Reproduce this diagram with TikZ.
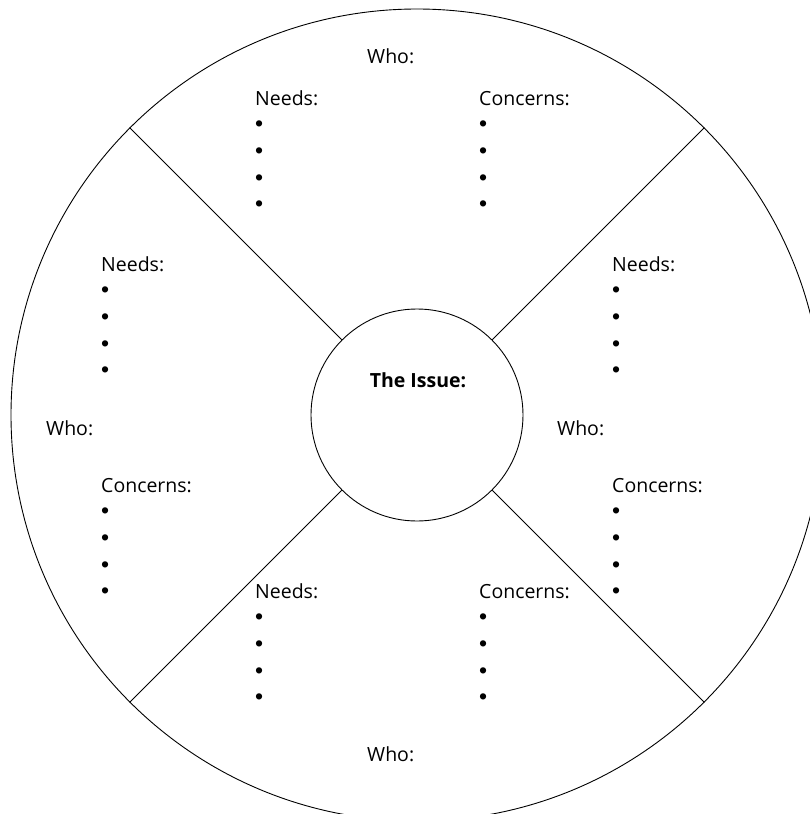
\documentclass[tikz,border=0pt]{standalone}
\usepackage{fontspec}
\setmainfont{Open Sans}
\newfontfamily\bulfont{Liberation Sans}
\newcommand{\bu}{{\bulfont\fontsize{23}{26.7}\selectfont •}}
\begin{document}
\begin{tikzpicture}[x=1pt,y=-1pt,
  lbl/.style={anchor=base west,inner sep=0pt,font=\fontsize{19.5}{26.7}\selectfont},
  lst/.style={lbl,align=left},
  ring/.style={circle,draw,line width=0.9pt,inner sep=0pt}]
\useasboundingbox (0,0) rectangle (809,814);
\node[ring,minimum size=812pt] (outer) at (417,415) {};
\node[ring,minimum size=212pt] (issue) at (417,415) {};
\foreach \a in {45,135,225,315}{\draw[line width=0.9pt] (issue.\a) -- (outer.\a);}
\node[lbl,font=\fontsize{19.5}{24}\selectfont\bfseries,anchor=base] (issuetext) at (418,387) {The Issue:};
% top  (list nodes are placed at the baseline of their last line = header + 105.7)
\node[lbl] (whoT) at (367,63) {Who:};
\node[lst] (needsT) at (255,211.7) {Needs:\\[-0.1pt] \bu\\ \bu\\ \bu\\ \bu};
\node[lst] (concT) at (479,211.7) {Concerns:\\[-0.1pt] \bu\\ \bu\\ \bu\\ \bu};
% left
\node[lbl] (whoL) at (46,435) {Who:};
\node[lst] (needsL) at (101,377.7) {Needs:\\[-0.1pt] \bu\\ \bu\\ \bu\\ \bu};
\node[lst] (concL) at (101,598.7) {Concerns:\\[-0.1pt] \bu\\ \bu\\ \bu\\ \bu};
% right
\node[lbl] (whoR) at (557,435) {Who:};
\node[lst] (needsR) at (612,377.7) {Needs:\\[-0.1pt] \bu\\ \bu\\ \bu\\ \bu};
\node[lst] (concR) at (612,598.7) {Concerns:\\[-0.1pt] \bu\\ \bu\\ \bu\\ \bu};
% bottom
\node[lst] (needsB) at (255,704.7) {Needs:\\[-0.1pt] \bu\\ \bu\\ \bu\\ \bu};
\node[lst] (concB) at (479,704.7) {Concerns:\\[-0.1pt] \bu\\ \bu\\ \bu\\ \bu};
\node[lbl] (whoB) at (367,761) {Who:};
\end{tikzpicture}
\end{document}
